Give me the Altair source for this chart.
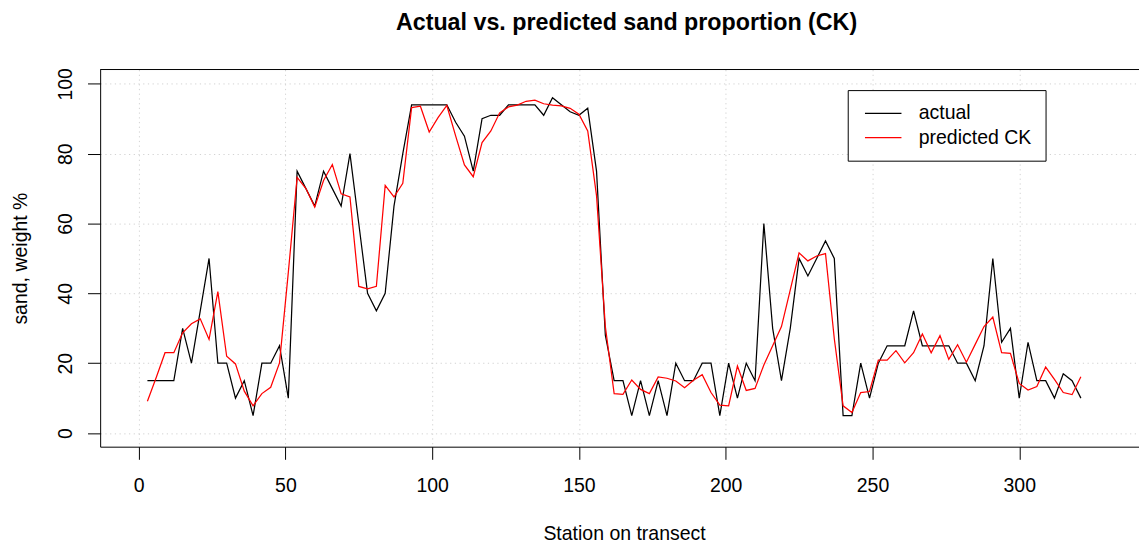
import altair as alt
import pandas as pd

# ---------------- data ----------------
stations = list(range(3, 322, 3))

actual = [
    15, 15, 15, 15, 30, 20, 35, 50, 20, 20,
    10, 15, 5, 20, 20, 25, 10, 75, 70, 65,
    75, 70, 65, 80, 60, 40, 35, 40, 65, 80,
    94, 94, 94, 94, 94, 89, 85, 75, 90, 91,
    91, 94, 94, 94, 94, 91, 96, 94, 92, 91,
    93, 75, 28, 15, 15, 5, 15, 5, 15, 5,
    20, 15, 15, 20, 20, 5, 20, 10, 20, 15,
    60, 30, 15, 30, 50, 45, 50, 55, 50, 5,
    5, 20, 10, 20, 25, 25, 25, 35, 25, 25,
    25, 25, 20, 20, 15, 25, 50, 26, 30, 10,
    26, 15, 15, 10, 17, 15, 10,
]

predicted = [
    9.1, 15.9, 23.0, 23.0, 28.7, 31.3, 32.7, 26.8, 40.5, 22.0,
    19.8, 12.0, 7.8, 11.3, 13.1, 20.1, 46.0, 73.2, 70.0, 64.7,
    72.3, 76.9, 68.5, 67.6, 42.0, 41.3, 42.0, 70.9, 67.6, 71.5,
    93.2, 93.6, 86.2, 90.3, 93.8, 85.1, 76.8, 73.4, 83.2, 86.5,
    91.7, 93.4, 93.9, 95.0, 95.3, 94.3, 93.9, 93.7, 93.0, 91.3,
    86.5, 68.0, 30.5, 11.3, 11.1, 15.2, 12.5, 11.3, 16.1, 15.7,
    14.9, 13.0, 15.1, 16.7, 11.6, 8.0, 7.8, 19.2, 12.2, 12.8,
    19.5, 25.0, 30.5, 41.0, 51.6, 49.3, 50.7, 51.4, 27.0, 7.8,
    5.9, 11.6, 11.9, 20.9, 20.9, 23.6, 20.1, 23.0, 28.4, 23.0,
    27.9, 21.1, 25.3, 20.3, 25.4, 30.5, 33.2, 23.0, 22.8, 14.2,
    12.3, 13.3, 18.9, 15.4, 11.6, 11.0, 16.1,
]

series_names = ["actual", "predicted CK"]
series_colors = ["black", "red"]
x_ticks = [0, 50, 100, 150, 200, 250, 300]
y_ticks = [0, 20, 40, 60, 80, 100]

chart_title = "Actual vs. predicted sand proportion (CK)"
x_title = "Station on transect"
y_title = "sand, weight %"

df = pd.DataFrame({
    "station": stations + stations,
    "sand": actual + predicted,
    "series": [series_names[0]] * len(stations) + [series_names[1]] * len(stations),
})

# ---------------- style ----------------
W, H = 1045, 379.4
FONT = "Liberation Sans"
FS = 19.6
GRID = "#d3d3d3"

x_scale = alt.Scale(domain=[-13.1, 340.8], zero=False, nice=False)
y_scale = alt.Scale(domain=[-3.9, 104.1], zero=False, nice=False)

x_axis = alt.Axis(
    values=x_ticks, title=x_title,
    grid=True, gridColor=GRID, gridDash=[1.25, 3.5], gridWidth=1,
    domain=True, domainColor="black", domainWidth=1,
    ticks=True, tickColor="black", tickSize=12.7, tickWidth=1,
    labelFont=FONT, labelFontSize=FS, labelColor="black",
    labelBaseline="alphabetic", labelAlign="center", labelPadding=32.3,
    labelFlush=False, labelOverlap=False,
    titleFont=FONT, titleFontSize=FS, titleFontWeight="normal", titleColor="black",
    titleX=527, titleY=93.3, titleBaseline="alphabetic", titleAlign="center",
)

y_axis = alt.Axis(
    values=y_ticks, title=y_title,
    grid=True, gridColor=GRID, gridDash=[1.25, 3.5], gridWidth=1,
    domain=True, domainColor="black", domainWidth=1,
    ticks=True, tickColor="black", tickSize=12.7, tickWidth=1,
    labelFont=FONT, labelFontSize=FS, labelColor="black",
    labelAngle=270, labelAlign="center", labelBaseline="alphabetic", labelPadding=16.3,
    labelFlush=False, labelOverlap=False,
    titleFont=FONT, titleFontSize=FS, titleFontWeight="normal", titleColor="black",
    titleAngle=270, titleAlign="center", titleBaseline="alphabetic",
    titleX=-74, titleY=H / 2,
)

lines = alt.Chart(df).mark_line(strokeWidth=1.25, clip=True).encode(
    x=alt.X("station:Q", scale=x_scale, axis=x_axis),
    y=alt.Y("sand:Q", scale=y_scale, axis=y_axis),
    color=alt.Color(
        "series:N",
        scale=alt.Scale(domain=series_names, range=series_colors),
        legend=alt.Legend(title=None),
    ),
)

# top edge of the plot frame (the right edge lies beyond the picture)
frame_top = alt.Chart(pd.DataFrame({"k": [0]})).mark_rule(
    color="black", strokeWidth=1
).encode(x=alt.value(0), x2=alt.value(W), y=alt.value(0))

chart = (
    alt.layer(lines, frame_top)
    .properties(
        width=W,
        height=H,
        title=alt.TitleParams(
            text=chart_title, font=FONT, fontSize=23.4, fontWeight="bold",
            color="black", anchor="middle", frame="group", dx=7,
            baseline="alphabetic", offset=14,
        ),
        autosize=alt.AutoSizeParams(type="none"),
        padding={"left": 92.7, "top": 60.3, "right": 0, "bottom": 95.3},
        background="white",
    )
    .configure_view(stroke=None)
    .configure_legend(
        orient="none", legendX=752, legendY=20.7,
        strokeColor="black", fillColor="white", padding=13.5,
        symbolType="M-4,0H4", symbolSize=84.2, symbolStrokeWidth=1.25,
        symbolOffset=12.4, labelOffset=25.9, rowPadding=3.5,
        labelFont=FONT, labelFontSize=FS, labelColor="black", labelLimit=0,
    )
)

chart.save("out.html", embed_options={"renderer": "svg", "actions": False})
